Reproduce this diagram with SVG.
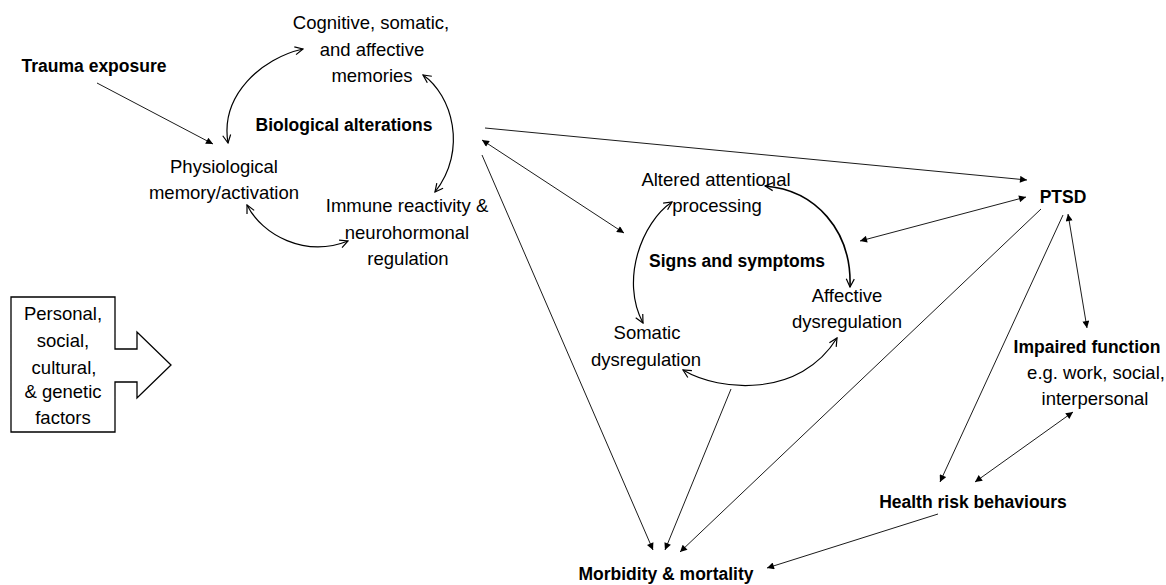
<svg xmlns="http://www.w3.org/2000/svg" width="1166" height="585" viewBox="0 0 1166 585">
<style>
  text { font-family: "Liberation Sans", Arial, sans-serif; font-size: 18.5px; fill: #000; text-anchor: middle; }
  .b { font-weight: bold; font-size: 17.5px; }
  .ln { stroke: #000; stroke-width: 0.9; fill: none; }
  .cv { stroke: #000; stroke-width: 1.2; fill: none; }
  .cvt { stroke: #000; stroke-width: 1.6; fill: none; }
</style>
<defs>
  <marker id="tri" viewBox="0 0 10 10" refX="10" refY="5" markerWidth="9" markerHeight="7" markerUnits="userSpaceOnUse" orient="auto-start-reverse">
    <path d="M0,0 L10,5 L0,10 z" fill="#000"/>
  </marker>
  <marker id="open" viewBox="0 0 10 10" refX="9" refY="5" markerWidth="10" markerHeight="10" markerUnits="userSpaceOnUse" orient="auto-start-reverse">
    <path d="M1,1 L9,5 L1,9" fill="none" stroke="#000" stroke-width="1.2"/>
  </marker>
</defs>
<rect width="1166" height="585" fill="#fff"/>

<g id="connectors">
  <!-- straight -->
  <path class="ln" d="M97,83 L213,144" marker-end="url(#tri)"/>
  <path class="ln" d="M485,128 L1027,180" marker-end="url(#tri)"/>
  <path class="ln" d="M482,140 L624,233" marker-start="url(#tri)" marker-end="url(#tri)"/>
  <path class="ln" d="M482,155 L653,550" marker-end="url(#tri)"/>
  <path class="ln" d="M731,389 L665,550" marker-end="url(#tri)"/>
  <path class="ln" d="M1041,209 L680,552" marker-end="url(#tri)"/>
  <path class="ln" d="M1026,197 L860,241" marker-start="url(#tri)" marker-end="url(#tri)"/>
  <path class="ln" d="M1068,214 L1087,328" marker-start="url(#tri)" marker-end="url(#tri)"/>
  <path class="ln" d="M1063,215 L940,482" marker-end="url(#tri)"/>
  <path class="ln" d="M1073,412 L975,482" marker-start="url(#tri)" marker-end="url(#tri)"/>
  <path class="ln" d="M938,514 L767,568" marker-end="url(#tri)"/>
  <!-- curved cycles -->
  <path class="cv" d="M303,49 C262,58 220,95 228,143" marker-start="url(#open)" marker-end="url(#open)"/>
  <path class="cv" d="M423,75 C452,95 468,150 435,192" marker-start="url(#open)" marker-end="url(#open)"/>
  <path class="cv" d="M247,205 C262,235 305,258 348,241" marker-start="url(#open)" marker-end="url(#open)"/>
  <path class="cvt" d="M765,186 C815,190 852,230 850,287" marker-start="url(#open)" marker-end="url(#open)"/>
  <path class="cv" d="M672,202 C642,222 620,280 643,323" marker-start="url(#open)" marker-end="url(#open)"/>
  <path class="cv" d="M683,370 C720,392 800,398 837,338" marker-start="url(#open)" marker-end="url(#open)"/>
</g>

<g id="trauma"><text class="b" x="94" y="72">Trauma exposure</text></g>
<g id="cognitive">
  <text x="371" y="29">Cognitive, somatic,</text>
  <text x="372" y="56">and affective</text>
  <text x="372" y="82">memories</text>
</g>
<g id="bio"><text class="b" x="344" y="131">Biological alterations</text></g>
<g id="physio">
  <text x="224" y="173">Physiological</text>
  <text x="224" y="199">memory/activation</text>
</g>
<g id="immune">
  <text x="407" y="212">Immune reactivity &amp;</text>
  <text x="407" y="239">neurohormonal</text>
  <text x="408" y="265">regulation</text>
</g>
<g id="attention">
  <text x="716" y="186">Altered attentional</text>
  <text x="717" y="212">processing</text>
</g>
<g id="signs"><text class="b" x="737" y="267">Signs and symptoms</text></g>
<g id="affective">
  <text x="847" y="302">Affective</text>
  <text x="847" y="328">dysregulation</text>
</g>
<g id="somatic">
  <text x="647" y="339">Somatic</text>
  <text x="646" y="366">dysregulation</text>
</g>
<g id="ptsd"><text class="b" x="1063" y="203">PTSD</text></g>
<g id="impaired">
  <text class="b" x="1087" y="353">Impaired function</text>
  <text x="1096" y="379">e.g. work, social,</text>
  <text x="1095" y="405">interpersonal</text>
</g>
<g id="health"><text class="b" x="973" y="508">Health risk behaviours</text></g>
<g id="morbidity"><text class="b" x="666" y="580">Morbidity &amp; mortality</text></g>
<g id="factors">
  <path d="M11,297 H115 V349 H137 V332 L171,365 L137,398 V382 H115 V432 H11 Z" fill="#fff" stroke="#000" stroke-width="1.3"/>
  <text x="63" y="320">Personal,</text>
  <text x="63" y="347">social,</text>
  <text x="64" y="374">cultural,</text>
  <text x="63" y="398">&amp; genetic</text>
  <text x="63" y="424">factors</text>
</g>
</svg>
